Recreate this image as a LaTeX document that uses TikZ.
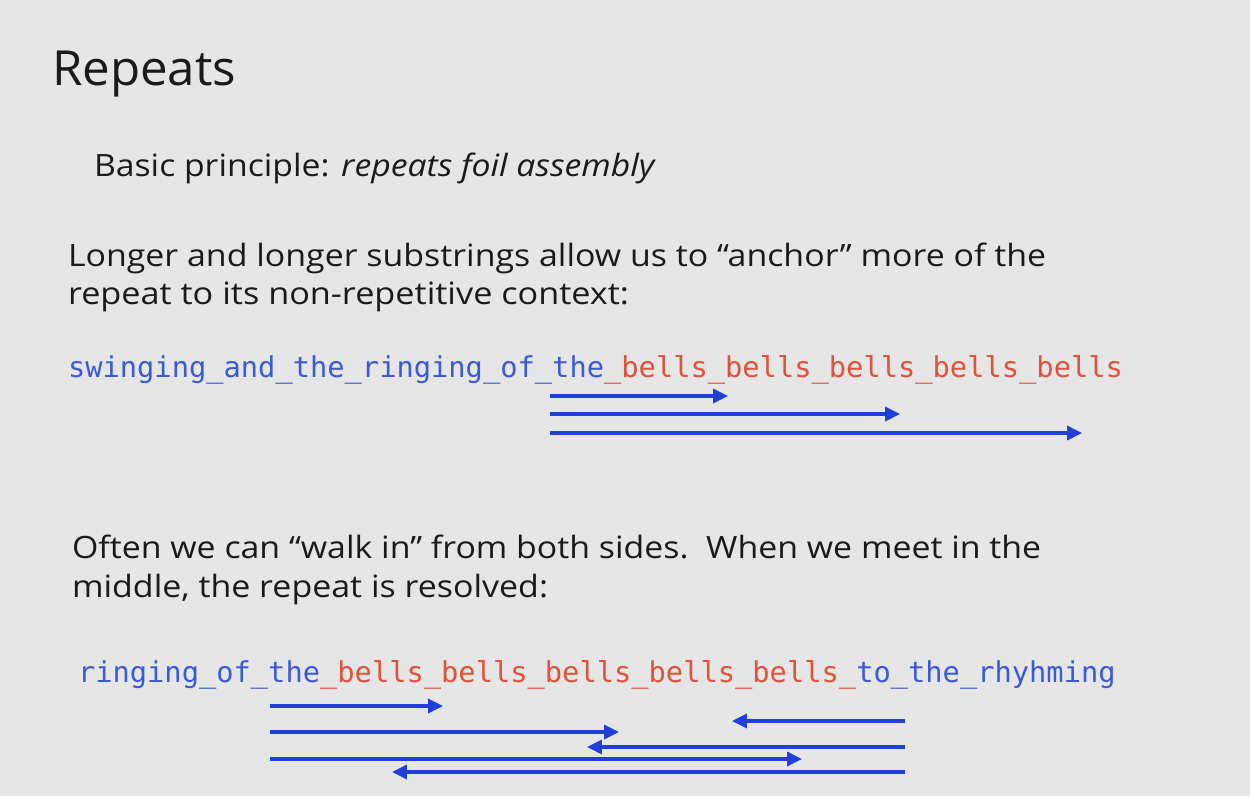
\documentclass[tikz,border=0pt]{standalone}
\usepackage{fontspec}
\usepackage{graphicx}
\setmainfont{Open Sans}
\newfontfamily\codefont{DejaVu Sans Mono}
\usetikzlibrary{arrows.meta}

% one pixel of the slide
\newlength\pxu
\setlength\pxu{0.02cm}
% set a line to a given width, keeping its natural height
\newcommand\fitline[2]{\resizebox{#1\pxu}{\height}{#2}}

\definecolor{slidebg}{HTML}{E5E6E5}
\definecolor{slideink}{HTML}{1A1A1A}
\definecolor{seqblue}{HTML}{3A5AD6}
\definecolor{seqred}{HTML}{E0523A}
\definecolor{arrowblue}{HTML}{1F3FD8}

\begin{document}
\begin{tikzpicture}[x=0.02cm, y=-0.02cm,
  txt/.style={anchor=base west, inner sep=0pt, outer sep=0pt, text=slideink},
  bodytext/.style={txt, font=\fontsize{17.5}{20}\selectfont},
  seq/.style={anchor=base west, inner sep=0pt, outer sep=0pt,
    font=\codefont\fontsize{16.35}{18}\selectfont},
  walk/.style={draw=arrowblue, line width=1.8pt,
    -{Triangle[length=8.5pt, width=8pt]}}]

\fill[slidebg] (0,0) rectangle (1250,796);
\useasboundingbox (0,0) rectangle (1250,796);

% headings and prose
\node[txt, font=\fontsize{27.5}{30}\selectfont] (title) at (52,85) {\fitline{184}{Repeats}};
\node[bodytext] (principle) at (94,176)
  {\fitline{562}{Basic principle: \textit{repeats foil assembly}}};

\node[bodytext] (anchorA) at (68,266)
  {\fitline{978}{Longer and longer substrings allow us to “anchor” more of the}};
\node[bodytext] (anchorB) at (68,304)
  {\fitline{561}{repeat to its non-repetitive context:}};

\node[bodytext] (walkA) at (72,558)
  {\fitline{969}{Often we can “walk in” from both sides.\ \ When we meet in the}};
\node[bodytext] (walkB) at (72,597)
  {\fitline{476}{middle, the repeat is resolved:}};

% sequences
\node[seq] (seqA) at (68,377)
  {\textcolor{seqblue}{swinging\_and\_the\_ringing\_of\_the}\textcolor{seqred}{\_bells\_bells\_bells\_bells\_bells}};
\node[seq] (seqB) at (78,682)
  {\textcolor{seqblue}{ringing\_of\_the}\textcolor{seqred}{\_bells\_bells\_bells\_bells\_bells\_}\textcolor{seqblue}{to\_the\_rhyhming}};

% growing anchored substrings
\coordinate (g1s) at (550,396); \coordinate (g1e) at (728,396);
\coordinate (g2s) at (550,414); \coordinate (g2e) at (900,414);
\coordinate (g3s) at (550,433); \coordinate (g3e) at (1082,433);
\draw[walk] (g1s) -- (g1e);
\draw[walk] (g2s) -- (g2e);
\draw[walk] (g3s) -- (g3e);

% walking in from the left
\coordinate (l1s) at (270,706); \coordinate (l1e) at (443,706);
\coordinate (l2s) at (270,732); \coordinate (l2e) at (619,732);
\coordinate (l3s) at (270,759); \coordinate (l3e) at (802,759);
\draw[walk] (l1s) -- (l1e);
\draw[walk] (l2s) -- (l2e);
\draw[walk] (l3s) -- (l3e);

% walking in from the right
\coordinate (r1s) at (905,721); \coordinate (r1e) at (732,721);
\coordinate (r2s) at (905,747); \coordinate (r2e) at (587,747);
\coordinate (r3s) at (905,772); \coordinate (r3e) at (392,772);
\draw[walk] (r1s) -- (r1e);
\draw[walk] (r2s) -- (r2e);
\draw[walk] (r3s) -- (r3e);
\end{tikzpicture}
\end{document}
